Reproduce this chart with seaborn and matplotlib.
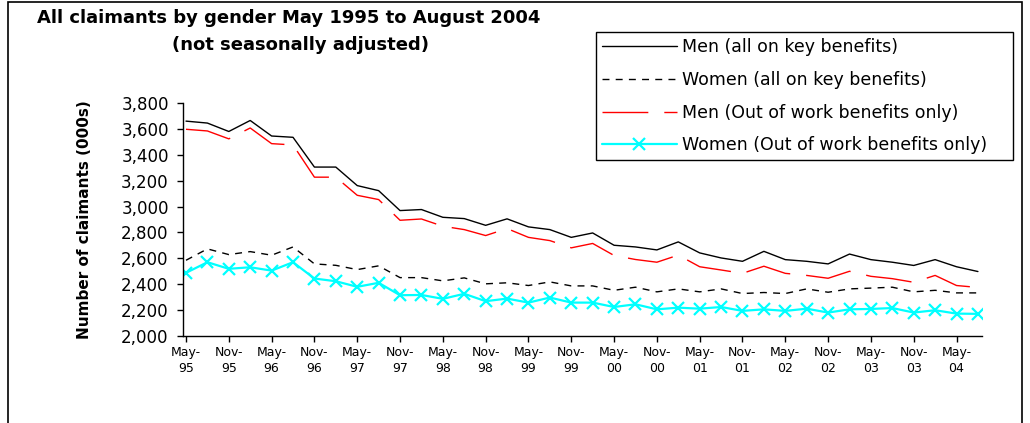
#!/usr/bin/env python3
# -*- coding: utf-8 -*-
"""
All claimants by gender, May 1995 to August 2004 (quarterly, not seasonally adjusted)
"""

import numpy as np
import pandas as pd
import matplotlib.pyplot as plt
import seaborn as sns
from matplotlib.patches import Rectangle
from matplotlib.ticker import FuncFormatter

# quarterly observations, May 1995 .. Aug 2004
quarters = pd.date_range('1995-05-01', '2004-08-01', freq='3MS')

men_all = [3660, 3645, 3580, 3665, 3545, 3535, 3305, 3305, 3162, 3123,
           2969, 2977, 2917, 2907, 2855, 2905, 2843, 2822, 2762, 2796,
           2701, 2688, 2665, 2727, 2642, 2603, 2577, 2654, 2590, 2577,
           2557, 2633, 2590, 2570, 2545, 2590, 2535, 2498]
women_all = [2585, 2673, 2629, 2652, 2624, 2688, 2557, 2546, 2513, 2542,
             2451, 2451, 2426, 2449, 2403, 2411, 2390, 2418, 2387, 2387,
             2353, 2377, 2341, 2364, 2341, 2364, 2328, 2336, 2328, 2364,
             2338, 2364, 2370, 2377, 2341, 2353, 2333, 2333]
men_oow = [3597, 3584, 3523, 3607, 3486, 3476, 3227, 3227, 3087, 3054,
           2894, 2904, 2848, 2822, 2776, 2830, 2762, 2737, 2681, 2715,
           2622, 2591, 2570, 2625, 2535, 2510, 2484, 2539, 2484, 2468,
           2446, 2500, 2461, 2443, 2415, 2468, 2390, 2375]
women_oow = [2488, 2570, 2519, 2531, 2505, 2570, 2444, 2423, 2380, 2411,
             2315, 2317, 2287, 2326, 2269, 2289, 2258, 2297, 2258, 2258,
             2224, 2245, 2206, 2219, 2211, 2224, 2194, 2206, 2194, 2211,
             2181, 2206, 2209, 2216, 2181, 2199, 2173, 2171]

labels = ['Men (all on key benefits)',
          'Women (all on key benefits)',
          'Men (Out of work benefits only)',
          'Women (Out of work benefits only)']

sns.set_style('white')
plt.rcParams['font.family'] = ['DejaVu Sans']
plt.rcParams['text.color'] = 'black'
plt.rcParams['axes.labelcolor'] = 'black'

fig = plt.figure(figsize=(10.3, 4.23), dpi=100)
ax = fig.add_axes([183 / 1030, 1 - 336 / 423, (982 - 183) / 1030, (336 - 103) / 423])

x = np.arange(len(quarters))

sns.lineplot(x=x, y=men_all, ax=ax, color='black', linewidth=1,
             label=labels[0])
sns.lineplot(x=x, y=women_all, ax=ax, color='black', linewidth=1,
             linestyle=(0, (5, 4.5)), label=labels[1])
sns.lineplot(x=x, y=men_oow, ax=ax, color='red', linewidth=1,
             linestyle=(0, (33, 11.5)), label=labels[2])
sns.lineplot(x=x, y=women_oow, ax=ax, color='#00FFFF', linewidth=1.6,
             marker='x', markersize=9, markeredgewidth=1.6,
             markeredgecolor='#00FFFF', label=labels[3])

# axes
ax.set_xlim(-0.14, 37.19)
ax.set_ylim(2000, 3800)
ax.set_yticks(np.arange(2000, 3801, 200))
ax.yaxis.set_major_formatter(FuncFormatter(lambda v, p: f'{int(v):,}'))
ax.set_xticks(x[::2])
ax.set_xticklabels([d.strftime('%b-\n%y') for d in quarters[::2]],
                   fontsize=9, linespacing=1.3)
ax.tick_params(axis='y', labelsize=12, length=4.3, width=1, pad=6,
               direction='out', left=True, colors='black')
ax.tick_params(axis='x', length=4, width=1, pad=3, direction='out',
               bottom=True, colors='black')
for side in ['top', 'right']:
    ax.spines[side].set_visible(False)
for side in ['left', 'bottom']:
    ax.spines[side].set_color('black')
    ax.spines[side].set_linewidth(1)
ax.grid(False)

ax.set_xlabel('')
ax.set_ylabel('Number of claimants (000s)', fontsize=11, fontweight='bold')
ax.yaxis.set_label_coords(-0.114, 0.5)

# title
fig.text(289 / 1030, 1 - 18 / 423, 'All claimants by gender May 1995 to August 2004',
         ha='center', va='center', fontsize=13, fontweight='bold')
fig.text(301 / 1030, 1 - 45 / 423, '(not seasonally adjusted)',
         ha='center', va='center', fontsize=13, fontweight='bold')

# legend, stretched to the width of the boxed area in the original
leg = ax.legend(loc='upper left',
                bbox_to_anchor=(596 / 1030, 1 - 163 / 423, 417 / 1030, 131 / 423),
                bbox_transform=fig.transFigure, mode='expand', fontsize=12.5,
                handlelength=4.3, handletextpad=0.3, labelspacing=0.85,
                borderpad=0.35, borderaxespad=0, fancybox=False,
                frameon=True, framealpha=1)
leg.get_frame().set_edgecolor('black')
leg.get_frame().set_linewidth(1)

# outer frame of the chart
fig.add_artist(Rectangle((8 / 1030, -0.1), (1022 - 8) / 1030, 1.1 - 2 / 423,
                         transform=fig.transFigure, fill=False,
                         edgecolor='black', linewidth=1.2))

fig.savefig('out.png', dpi=100)
